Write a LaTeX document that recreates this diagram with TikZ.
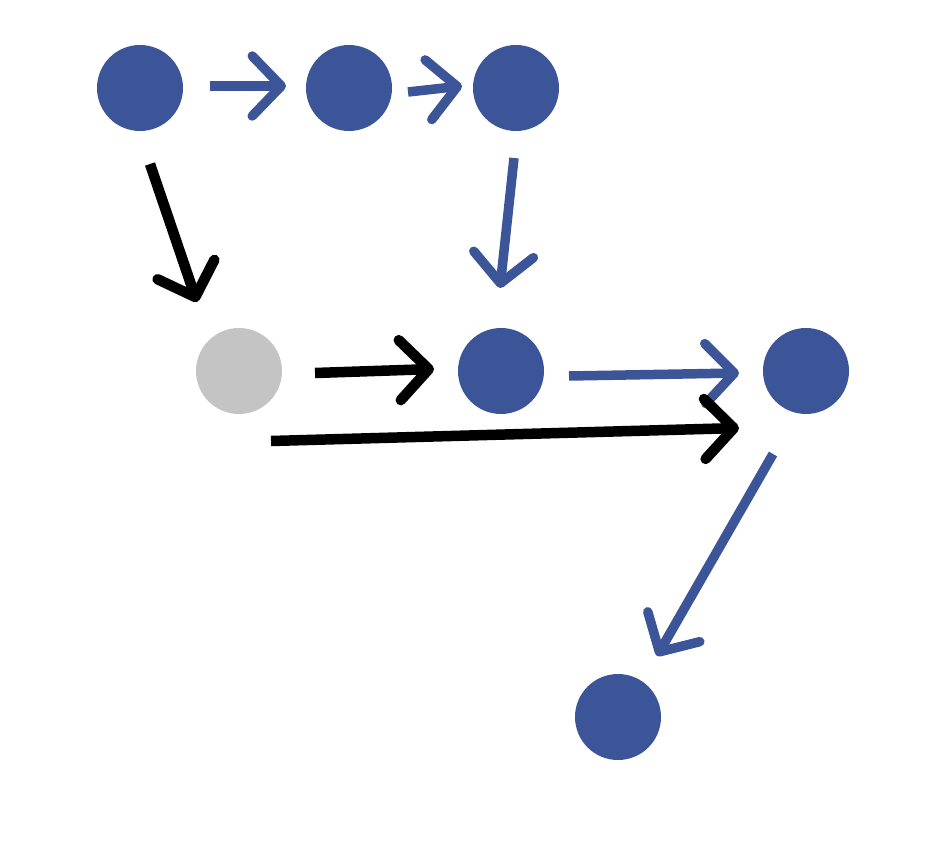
\documentclass[tikz,border=0pt]{standalone}
\usetikzlibrary{arrows.meta,calc}
\definecolor{dotblue}{HTML}{3B5598}
\definecolor{dotgray}{HTML}{C4C4C4}
\begin{document}
\begin{tikzpicture}[x=1pt,y=-1pt,
  dot/.style={circle,fill=dotblue,draw=none,minimum size=86pt,inner sep=0pt,outer sep=0pt},
  graydot/.style={dot,fill=dotgray},
  barb/.style={-{Straight Barb[length=29pt,width=60pt,round]}},
  bluearrow/.style={barb,draw=dotblue,line width=9.5pt},
  blackarrow/.style={barb,draw=black,line width=10.5pt}]
\useasboundingbox (0,0) rectangle (948,848);
\node[dot] (A) at (140,88) {};
\node[dot] (B) at (349,88) {};
\node[dot] (C) at (516,88) {};
\node[graydot] (D) at (239,371) {};
\node[dot] (E) at (501,371) {};
\node[dot] (F) at (806,371) {};
\node[dot] (G) at (618,717) {};
\coordinate (a1) at ($(A)+(70,-2)$);
\coordinate (b0) at ($(B)+(-63,-2)$);
\coordinate (b1) at ($(B)+(59,4)$);
\coordinate (c1) at ($(C)+(-54,-2)$);
\coordinate (c2) at ($(C)+(-2,70)$);
\coordinate (e0) at ($(E)+(-1,-83)$);
\coordinate (a2) at ($(A)+(10,76)$);
\coordinate (d0) at ($(D)+(-42,-69)$);
\coordinate (d2) at ($(D)+(76,2)$);
\coordinate (e1) at ($(E)+(-67,-2)$);
\coordinate (e2) at ($(E)+(68,5)$);
\coordinate (f0) at ($(F)+(-67,2)$);
\coordinate (d1) at ($(D)+(32,70)$);
\coordinate (f1) at ($(F)+(-67,57)$);
\coordinate (f2) at ($(F)+(-33,83)$);
\coordinate (g0) at ($(G)+(39,-61)$);
\draw[bluearrow] (a1) -- (b0);
\draw[bluearrow] (b1) -- (c1);
\draw[bluearrow] (c2) -- (e0);
\draw[blackarrow] (a2) -- (d0);
\draw[blackarrow] (d2) -- (e1);
\draw[bluearrow] (e2) -- (f0);
\draw[blackarrow] (d1) -- (f1);
\draw[bluearrow] (f2) -- (g0);
\end{tikzpicture}
\end{document}
